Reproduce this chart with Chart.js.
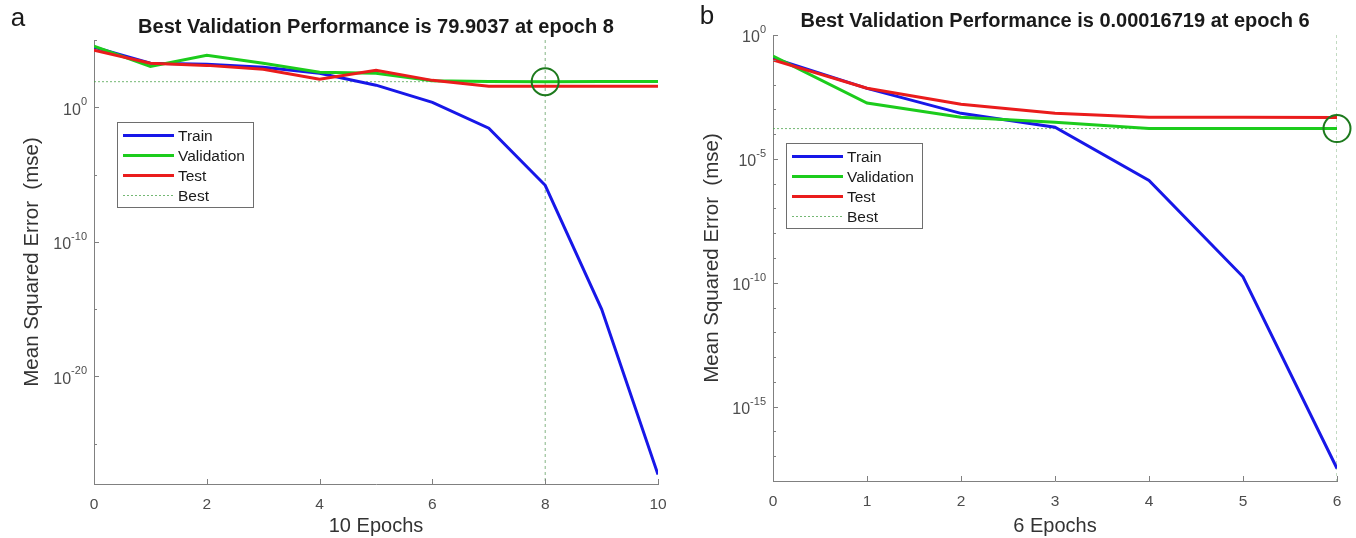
<!DOCTYPE html>
<html>
<head>
<meta charset="utf-8">
<title>Training performance</title>
<script src="https://cdn.jsdelivr.net/npm/chart.js@4.4.0/dist/chart.umd.min.js"></script>
<style>
  html, body { margin: 0; padding: 0; background: #fff; }
  #wrap { position: relative; width: 1356px; height: 538px; overflow: hidden; }
  .panel { position: absolute; top: 0; width: 678px; height: 538px; }
  #panelA { left: 0; }
  #panelB { left: 678px; }
</style>
</head>
<body>
<div id="wrap">
  <div class="panel" id="panelA"><canvas id="chartA" width="678" height="538"></canvas></div>
  <div class="panel" id="panelB"><canvas id="chartB" width="678" height="538"></canvas></div>
</div>
<script>
// Panel a - network trained for 10 epochs
var epochsA = [0, 1, 2, 3, 4, 5, 6, 7, 8, 9, 10];
var trainA = [2.9e4, 1.86e3, 1.6e3, 9.3e2, 3.4e2, 44, 2.3, 2.8e-2, 1.6e-6, 1.0e-15, 5e-28];
var validationA = [3.5e4, 1.1e3, 7.4e3, 1.9e3, 4.0e2, 3.4e2, 95, 84, 79.9037, 81, 82];
var testA = [1.75e4, 1.86e3, 1.3e3, 6.8e2, 1.2e2, 5.6e2, 1.0e2, 36, 36, 36, 36];
var bestEpochA = 8;
var bestValueA = 79.9037;
var yRangeA = [1e-28, 1e5];
var majorTicksA = [1e0, 1e-10, 1e-20];
var minorTicksA = [1e5, 1e-5, 1e-15, 1e-25];
var xTicksA = [0, 2, 4, 6, 8, 10];

// Panel b - network trained for 6 epochs
var epochsB = [0, 1, 2, 3, 4, 5, 6];
var trainB = [0.117, 7e-3, 6.9e-4, 1.9e-4, 1.35e-6, 1.74e-10, 3.2e-18];
var validationB = [0.14, 1.8e-3, 4.8e-4, 3.0e-4, 1.7e-4, 1.68e-4, 0.00016719];
var testB = [0.098, 7.1e-3, 1.6e-3, 6.9e-4, 4.8e-4, 4.8e-4, 4.7e-4];
var bestEpochB = 6;
var bestValueB = 0.00016719;
var yRangeB = [1e-18, 1e0];
var majorTicksB = [1e0, 1e-5, 1e-10, 1e-15];
var minorTicksB = [1e-1, 1e-2, 1e-3, 1e-4, 1e-6, 1e-7, 1e-8, 1e-9, 1e-11, 1e-12, 1e-13, 1e-14, 1e-16, 1e-17];
var xTicksB = [0, 1, 2, 3, 4, 5, 6];

var FONT = '"Liberation Sans", Arial, Helvetica, sans-serif';
Chart.defaults.font.family = FONT;

// inward tick marks, 10^n labels, boxed legend and panel letter
var matlabAxes = {
    id: 'matlabAxes',
    afterDraw: function(chart, args, opts) {
        var ctx = chart.ctx;
        var area = chart.chartArea;
        var xs = chart.scales.x;
        var ys = chart.scales.y;
        ctx.save();

        ctx.strokeStyle = '#808080';
        ctx.lineWidth = 1;
        ctx.beginPath();
        opts.majorTicks.forEach(function(v) {
            var py = Math.round(ys.getPixelForValue(v)) + 0.5;
            ctx.moveTo(area.left, py);
            ctx.lineTo(area.left + 5, py);
        });
        opts.minorTicks.forEach(function(v) {
            var py = Math.round(ys.getPixelForValue(v)) + 0.5;
            ctx.moveTo(area.left, py);
            ctx.lineTo(area.left + 3, py);
        });
        xs.ticks.forEach(function(t) {
            var px = Math.round(xs.getPixelForValue(t.value)) + 0.5;
            ctx.moveTo(px, area.bottom);
            ctx.lineTo(px, area.bottom - 5);
        });
        ctx.stroke();

        // y tick labels as 10 with a raised exponent
        ctx.fillStyle = '#4d4d4d';
        ctx.textBaseline = 'middle';
        opts.majorTicks.forEach(function(v) {
            var py = ys.getPixelForValue(v);
            var exp = String(Math.round(Math.log10(v)));
            ctx.font = '11px ' + FONT;
            var expW = ctx.measureText(exp).width;
            var expX = area.left - 7 - expW;
            ctx.textAlign = 'left';
            ctx.fillText(exp, expX, py - 5);
            ctx.font = '16px ' + FONT;
            ctx.textAlign = 'right';
            ctx.fillText('10', expX, py + 3);
        });

        // legend
        var items = chart.data.datasets.filter(function(d) {
            return d.legendRank !== undefined;
        }).sort(function(a, b) { return a.legendRank - b.legendRank; });
        var bx = Math.round(area.left + opts.legend.x);
        var by = Math.round(area.top + opts.legend.y);
        ctx.fillStyle = '#ffffff';
        ctx.fillRect(bx, by, 136, 85);
        ctx.strokeStyle = '#6e6e6e';
        ctx.lineWidth = 1;
        ctx.strokeRect(bx + 0.5, by + 0.5, 136, 85);
        items.forEach(function(d, i) {
            var ly = by + 13.5 + i * 20;
            ctx.setLineDash(d.borderDash || []);
            ctx.strokeStyle = d.borderColor;
            ctx.lineWidth = d.borderWidth;
            ctx.beginPath();
            ctx.moveTo(bx + 6, ly);
            ctx.lineTo(bx + 57, ly);
            ctx.stroke();
            ctx.setLineDash([]);
            ctx.fillStyle = '#1a1a1a';
            ctx.font = '15.5px ' + FONT;
            ctx.textAlign = 'left';
            ctx.textBaseline = 'middle';
            ctx.fillText(d.label, bx + 61, ly + 1);
        });

        // panel letter
        ctx.fillStyle = '#1a1a1a';
        ctx.font = '26px ' + FONT;
        ctx.textAlign = 'center';
        ctx.textBaseline = 'middle';
        ctx.fillText(opts.letter, opts.letterX, opts.letterY);
        ctx.restore();
    }
};

function points(xs, ys) {
    return xs.map(function(x, i) { return { x: x, y: ys[i] }; });
}

function buildPerformanceChart(canvasId, p) {
    var xMax = p.epochs[p.epochs.length - 1];
    var ctx = document.getElementById(canvasId).getContext('2d');

    new Chart(ctx, {
        type: 'line',
        data: {
            datasets: [
                {
                    label: 'Train',
                    data: points(p.epochs, p.train),
                    borderColor: '#1717e8',
                    borderWidth: 3,
                    pointRadius: 0,
                    order: 3,
                    legendRank: 0
                },
                {
                    label: 'Validation',
                    data: points(p.epochs, p.validation),
                    borderColor: '#1ccc1c',
                    borderWidth: 3,
                    pointRadius: 0,
                    order: 2,
                    legendRank: 1
                },
                {
                    label: 'Test',
                    data: points(p.epochs, p.test),
                    borderColor: '#ea1c1c',
                    borderWidth: 3,
                    pointRadius: 0,
                    order: 1,
                    legendRank: 2
                },
                {
                    label: 'Best',
                    data: [{ x: 0, y: p.bestValue }, { x: xMax, y: p.bestValue }],
                    borderColor: 'rgba(70, 160, 70, 0.75)',
                    borderWidth: 1,
                    borderDash: [2, 2],
                    pointRadius: 0,
                    order: 4,
                    legendRank: 3
                },
                {
                    // vertical marker at the best epoch
                    label: 'Best epoch',
                    data: [{ x: p.bestEpoch, y: p.yRange[1] }, { x: p.bestEpoch, y: p.yRange[0] }],
                    borderColor: 'rgba(80, 150, 80, 0.7)',
                    borderWidth: 1,
                    borderDash: [3, 3],
                    pointRadius: 0,
                    order: 5
                },
                {
                    label: 'Best point',
                    data: [{ x: p.bestEpoch, y: p.bestValue }],
                    showLine: false,
                    pointRadius: 13.5,
                    pointBorderWidth: 2,
                    pointBorderColor: '#1d7a1d',
                    pointBackgroundColor: 'rgba(0,0,0,0)',
                    clip: false,
                    order: 0
                }
            ]
        },
        options: {
            responsive: false,
            animation: false,
            events: [],
            layout: {
                padding: { left: p.padLeft, right: p.padRight, top: 0, bottom: 0 }
            },
            scales: {
                x: {
                    type: 'linear',
                    position: 'bottom',
                    min: 0,
                    max: xMax,
                    afterBuildTicks: function(scale) {
                        scale.ticks = p.xTicks.map(function(v) { return { value: v }; });
                    },
                    afterFit: function(scale) { scale.height = p.xHeight; },
                    ticks: {
                        color: '#4d4d4d',
                        font: { size: 15.5 },
                        padding: 11,
                        maxRotation: 0,
                        autoSkip: false
                    },
                    grid: { display: false, drawTicks: false },
                    border: { display: true, color: '#808080', width: 1 },
                    title: {
                        display: true,
                        text: xMax + ' Epochs',
                        color: '#333333',
                        font: { size: 20 },
                        padding: { top: 0, bottom: 0 }
                    }
                },
                y: {
                    type: 'logarithmic',
                    min: p.yRange[0],
                    max: p.yRange[1],
                    afterBuildTicks: function(scale) {
                        scale.ticks = p.majorTicks.map(function(v) { return { value: v }; });
                    },
                    afterFit: function(scale) { scale.width = p.yWidth; },
                    ticks: { display: false },
                    grid: { display: false, drawTicks: false },
                    border: { display: true, color: '#808080', width: 1 },
                    title: {
                        display: true,
                        text: 'Mean Squared Error  (mse)',
                        color: '#333333',
                        font: { size: 20.5 },
                        padding: { top: 4, bottom: 4 }
                    }
                }
            },
            plugins: {
                legend: { display: false },
                tooltip: { enabled: false },
                title: {
                    display: true,
                    fullSize: false,
                    text: 'Best Validation Performance is ' + p.bestValue + ' at epoch ' + p.bestEpoch,
                    color: '#1a1a1a',
                    font: { size: 20, weight: 'bold' },
                    padding: p.titlePadding
                },
                matlabAxes: {
                    majorTicks: p.majorTicks,
                    minorTicks: p.minorTicks,
                    legend: p.legend,
                    letter: p.letter,
                    letterX: p.letterX,
                    letterY: p.letterY
                }
            }
        },
        plugins: [matlabAxes]
    });
}

buildPerformanceChart('chartA', {
    epochs: epochsA, train: trainA, validation: validationA, test: testA,
    bestEpoch: bestEpochA, bestValue: bestValueA, yRange: yRangeA,
    majorTicks: majorTicksA, minorTicks: minorTicksA, xTicks: xTicksA,
    padLeft: 16, padRight: 20, yWidth: 78, xHeight: 54,
    titlePadding: { top: 15, bottom: 1 },
    legend: { x: 23, y: 82 },
    letter: 'a', letterX: 18, letterY: 19
});

buildPerformanceChart('chartB', {
    epochs: epochsB, train: trainB, validation: validationB, test: testB,
    bestEpoch: bestEpochB, bestValue: bestValueB, yRange: yRangeB,
    majorTicks: majorTicksB, minorTicks: minorTicksB, xTicks: xTicksB,
    padLeft: 18, padRight: 19, yWidth: 77, xHeight: 57,
    titlePadding: { top: 9, bottom: 2 },
    legend: { x: 13, y: 108 },
    letter: 'b', letterX: 29, letterY: 17
});
</script>
</body>
</html>
